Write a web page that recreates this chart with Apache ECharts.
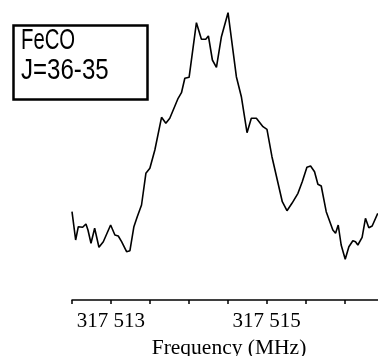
<!DOCTYPE html>
<html>
<head>
<meta charset="utf-8">
<script src="https://cdn.jsdelivr.net/npm/echarts@6/dist/echarts.min.js"></script>
<style>html,body{margin:0;padding:0;background:#fff}#c{width:378px;height:356px}</style>
</head>
<body>
<div id="c"></div>
<script>
var freq = [512.5,512.547,512.581,512.637,512.679,512.705,512.744,512.791,512.846,512.902,512.996,513.051,513.094,513.137,513.201,513.244,513.295,513.338,513.393,513.449,513.5,513.564,513.65,513.705,513.756,513.863,513.906,513.949,514.004,514.098,514.162,514.218,514.252,514.303,514.355,514.419,514.504,514.611,514.675,514.748,514.803,514.868,514.953,515.004,515.068,515.201,515.261,515.325,515.402,515.457,515.517,515.564,515.615,515.658,515.701,515.765,515.85,515.885,515.919,515.957,516.009,516.056,516.107,516.141,516.171,516.226,516.269,516.312,516.355,516.427];
var intensity = [88.3,60,73.3,72.7,76,70,56.7,71.7,52.7,58.3,75,65,64,58.3,48.3,49.3,73.3,83.3,95,126.7,131.7,150,182.7,176.7,181.7,201.7,207.3,221.7,222.7,277.3,260.7,260.7,264,240,232.7,263.3,287.3,223.3,203.3,167.3,181.7,181.7,173.3,170.7,143.3,98.3,89.3,96.7,106.7,118.3,132.7,134,128.3,115.7,114,88.3,70,66.7,75,55,40.7,53.3,59.3,58.3,55,62.7,81.7,72.3,74,86.7];
var tickValues = [512.5,513,513.5,514,514.5,515,515.5,516];
var labelValues = [513,515];
var labelTexts = ['317 513','317 515'];
var boxLines = ['FeCO','J=36-35'];
var axisName = 'Frequency (MHz)';

var data = freq.map(function(f,i){return [f,intensity[i]];});
var chart = echarts.init(document.getElementById('c'), null, {renderer:'canvas'});
var boxFont = "normal 29px 'Liberation Sans', Arial, sans-serif";
chart.setOption({
  animation:false,
  backgroundColor:'#fff',
  grid:{left:72,right:0,top:0,bottom:56,containLabel:false,outerBoundsMode:'none'},
  graphic:[{
    type:'rect', left:11, top:23,
    shape:{width:134,height:74},
    style:{fill:'none',stroke:'#000',lineWidth:2.5},
    z:10
  },{
    type:'text', x:21, y:26, scaleX:0.7,
    style:{text:boxLines[0],font:boxFont,fill:'#000',verticalAlign:'top'}, z:10
  },{
    type:'text', x:21, y:56.5, scaleX:0.83,
    style:{text:boxLines[1],font:boxFont,fill:'#000',verticalAlign:'top'}, z:10
  }],
  xAxis:{
    type:'value', min:512.5, max:516.43,
    splitLine:{show:false},
    axisLine:{show:true,lineStyle:{color:'#000',width:1.5}},
    axisTick:{show:true,length:4,lineStyle:{color:'#000',width:1.5},customValues:tickValues},
    axisLabel:{customValues:labelValues,color:'#000',fontFamily:"'Liberation Serif','Times New Roman',serif",fontSize:21,margin:11,
      formatter:function(v){var i=labelValues.indexOf(v);return i>=0?labelTexts[i]:'';}},
    name:axisName, nameLocation:'middle', nameGap:37,
    nameTextStyle:{color:'#000',fontFamily:"'Liberation Serif','Times New Roman',serif",fontSize:21.5,padding:[0,0,0,8]}
  },
  yAxis:{type:'value',min:0,max:300,show:false},
  series:[{
    type:'line', data:data, showSymbol:false, symbol:'none',
    lineStyle:{color:'#000',width:1.6}, clip:false
  }]
});
</script>
</body>
</html>
